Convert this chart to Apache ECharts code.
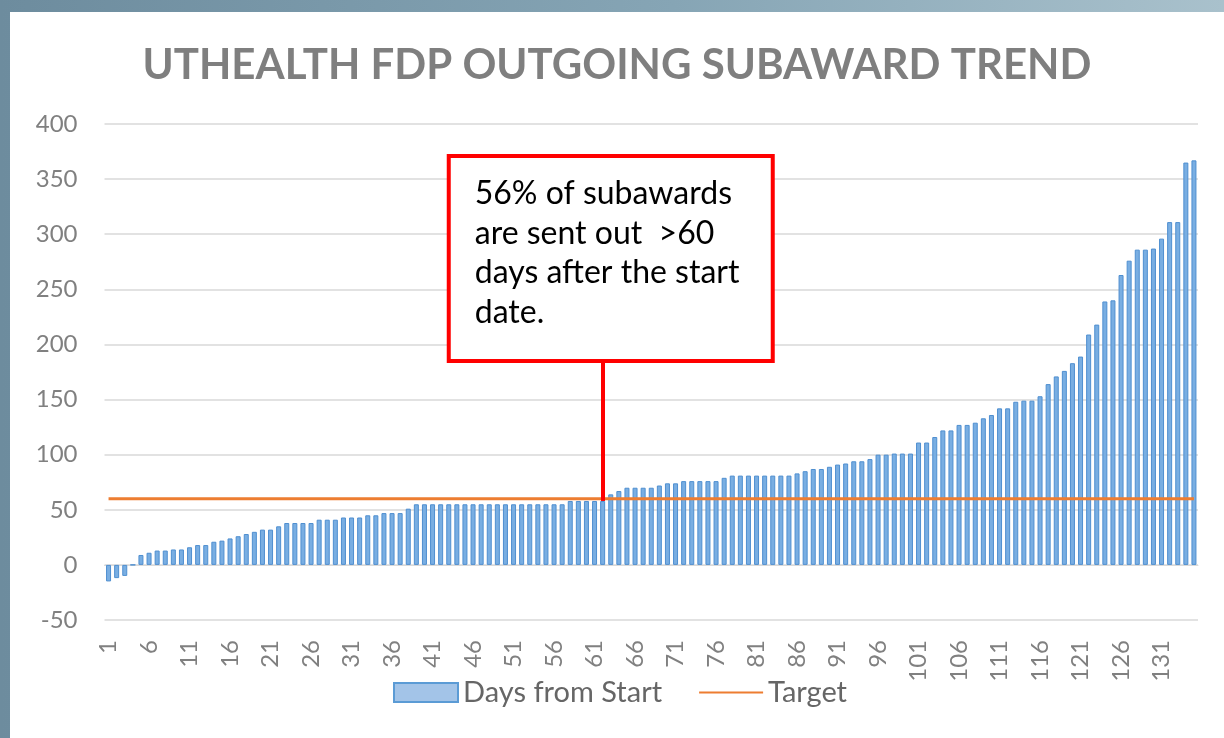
<!DOCTYPE html>
<html>
<head>
<meta charset="utf-8">
<script src="https://cdn.jsdelivr.net/npm/echarts@6/dist/echarts.min.js"></script>
<style>
  html, body { margin: 0; padding: 0; }
  body {
    width: 1224px; height: 738px; position: relative; overflow: hidden;
    background: linear-gradient(90deg, #6d8c9e 0%, #86a5b5 55%, #a9c1cc 100%);
  }
  #chart { position: absolute; left: 10px; top: 12px; width: 1214px; height: 726px; background: #fff; }
</style>
</head>
<body>
<div id="chart"></div>
<script>
// days from start date until the subaward went out, sorted ascending
const daysFromStart = [
  -15, -12, -10, 0, 9, 11, 13, 13, 14, 14,
  16, 18, 18, 21, 22, 24, 26, 28, 30, 32,
  32, 35, 38, 38, 38, 38, 41, 41, 41, 43,
  43, 43, 45, 45, 47, 47, 47, 51, 55, 55,
  55, 55, 55, 55, 55, 55, 55, 55, 55, 55,
  55, 55, 55, 55, 55, 55, 55, 58, 58, 58,
  58, 58, 64, 67, 70, 70, 70, 70, 72, 74,
  74, 76, 76, 76, 76, 76, 79, 81, 81, 81,
  81, 81, 81, 81, 81, 83, 85, 87, 87, 89,
  91, 92, 94, 94, 96, 100, 100, 101, 101, 101,
  111, 111, 116, 122, 122, 127, 127, 129, 133, 136,
  142, 142, 148, 149, 149, 153, 164, 171, 176, 183,
  189, 209, 218, 239, 240, 263, 276, 286, 286, 287,
  296, 311, 311, 365, 367
];
const categories = daysFromStart.map((_, i) => String(i + 1));
const TARGET_DAYS = 60;
const targetDays = categories.map(() => TARGET_DAYS);

const yMin = -50;
const yMax = 400;
const yStep = 50;

// callout: box spans these categories / values, pointer drops onto bar 62
const calloutBoxX = ['44', '82'];
const calloutBoxY = [185, 371];
const calloutPointer = { x: '62', from: 58, to: 185 };
const calloutLines = ['56% of subawards', 'are sent out  >60', 'days after the start', 'date.'];

const FONT = 'Lato, "Noto Sans", sans-serif';
const chart = echarts.init(document.getElementById('chart'), null, { renderer: 'canvas' });

chart.setOption({
  animation: false,
  title: {
    text: 'UTHEALTH FDP OUTGOING SUBAWARD TREND',
    left: 'center',
    top: 27,
    textStyle: { fontFamily: FONT, fontSize: 42, fontWeight: 'bold', color: '#7f7f7f' }
  },
  legend: {
    left: 378,
    top: 661,
    itemWidth: 64,
    itemHeight: 19,
    itemGap: 36,
    textStyle: { fontFamily: FONT, fontSize: 29, color: '#666666' },
    data: [
      { name: 'Days from Start', icon: 'rect', itemStyle: { color: '#a3c4e8', borderColor: '#5b9bd5', borderWidth: 2 } },
      { name: 'Target', itemStyle: { opacity: 0 } }
    ]
  },
  grid: { left: 94.5, right: 26, top: 112, bottom: 118, containLabel: false },
  xAxis: {
    type: 'category',
    data: categories,
    axisLine: { onZero: true, lineStyle: { color: '#d9d9d9' } },
    axisTick: { show: false },
    axisLabel: {
      interval: 4,
      rotate: 90,
      margin: 20,
      fontFamily: FONT,
      fontSize: 24,
      color: '#808080'
    }
  },
  yAxis: {
    type: 'value',
    min: yMin,
    max: yMax,
    interval: yStep,
    axisLine: { show: false },
    axisTick: { show: false },
    splitLine: { lineStyle: { color: '#d9d9d9', width: 1.5 } },
    axisLabel: { margin: 27, fontFamily: FONT, fontSize: 24, color: '#808080' }
  },
  series: [
    {
      name: 'Days from Start',
      type: 'bar',
      data: daysFromStart,
      barWidth: 5,
      itemStyle: { color: '#79aee2', borderColor: '#4f8fd0', borderWidth: 1 },
      markArea: {
        silent: true,
        itemStyle: { color: '#ffffff', borderColor: '#ff0000', borderWidth: 4 },
        label: {
          show: true,
          position: [28, 20],
          align: 'left',
          verticalAlign: 'top',
          fontFamily: FONT,
          fontSize: 32,
          lineHeight: 39.5,
          color: '#000000',
          formatter: calloutLines.join('\n')
        },
        data: [[
          { coord: [calloutBoxX[0], calloutBoxY[0]] },
          { coord: [calloutBoxX[1], calloutBoxY[1]] }
        ]]
      }
    },
    {
      name: 'Target',
      type: 'line',
      data: targetDays,
      symbol: 'none',
      lineStyle: { color: '#ed7d31', width: 3 },
      itemStyle: { color: '#ed7d31' },
      z: 3,
      markLine: {
        silent: true,
        symbol: 'none',
        label: { show: false },
        lineStyle: { color: '#ff0000', width: 4, type: 'solid' },
        data: [[
          { coord: [calloutPointer.x, calloutPointer.from] },
          { coord: [calloutPointer.x, calloutPointer.to] }
        ]]
      }
    }
  ]
});
</script>
</body>
</html>
